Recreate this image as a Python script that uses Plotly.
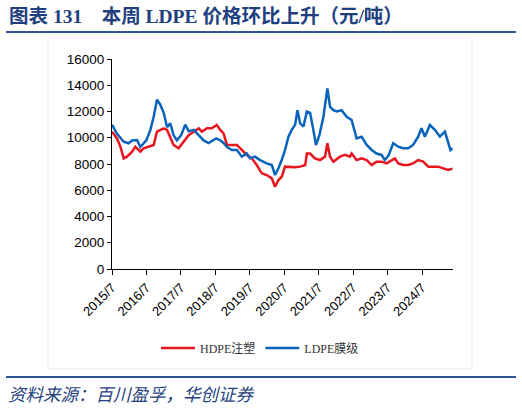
import plotly.graph_objects as go

# LDPE 膜级 (blue)
ldpe_dates = ["2015-07-01", "2015-08-23", "2015-11-02", "2015-12-25", "2016-01-30", "2016-03-22",
              "2016-04-27", "2016-06-01", "2016-06-29", "2016-08-11", "2016-09-15", "2016-10-20",
              "2016-11-25", "2016-12-30", "2017-02-04", "2017-03-10", "2017-04-14", "2017-05-19",
              "2017-07-04", "2017-08-16", "2017-09-21", "2017-11-13", "2018-01-05", "2018-02-27",
              "2018-04-20", "2018-07-10", "2018-08-22", "2018-09-26", "2018-11-01", "2018-12-23",
              "2019-02-15", "2019-04-07", "2019-05-30", "2019-07-04", "2019-08-26", "2019-10-18",
              "2019-12-28", "2020-02-20", "2020-03-25", "2020-04-30", "2020-06-04", "2020-07-09",
              "2020-08-14", "2020-09-18", "2020-10-24", "2020-11-18", "2020-12-16", "2021-01-21",
              "2021-02-25", "2021-04-01", "2021-05-05", "2021-06-02", "2021-07-08", "2021-08-20",
              "2021-10-01", "2021-10-29", "2021-12-03", "2022-01-08", "2022-03-01", "2022-04-23",
              "2022-06-15", "2022-07-09", "2022-08-07", "2022-09-29", "2022-11-22", "2023-01-14",
              "2023-03-06", "2023-04-28", "2023-06-02", "2023-07-14", "2023-08-30", "2023-10-22",
              "2023-12-14", "2024-02-05", "2024-03-28", "2024-05-21", "2024-06-25", "2024-07-31",
              "2024-09-22", "2024-11-14", "2025-01-06", "2025-02-28", "2025-04-03", "2025-04-28",
              "2025-05-19"]
ldpe_values = [11000, 10300, 9700, 9580, 9800, 9830,
               9300, 9580, 9800, 10600, 11600, 12900,
               12500, 11900, 10800, 11100, 10200, 9800,
               10200, 11000, 10500, 10600, 10200, 9800,
               9600, 9950, 9800, 9600, 9300, 9070,
               9070, 8560, 8800, 8430, 8560, 8300,
               8050, 7920, 7160, 7670, 8300, 9070,
               10080, 10600, 11000, 12100, 11100, 10850,
               12000, 11900, 10600, 9450, 10200, 11600,
               13760, 12370, 12100, 12000, 12100, 11600,
               11350, 10600, 9950, 10080, 9450, 9070,
               8800, 8690, 8300, 8690, 9580, 9320,
               9200, 9200, 9450, 10080, 10720, 10080,
               10970, 10600, 10080, 10460, 9580, 9070,
               9200]

# HDPE 注塑 (red)
hdpe_dates = ["2015-07-01", "2015-08-23", "2015-09-28", "2015-11-02", "2015-12-07", "2016-01-30",
              "2016-03-04", "2016-04-27", "2016-06-01", "2016-07-23", "2016-09-15", "2016-10-20",
              "2016-11-25", "2016-12-30", "2017-02-04", "2017-03-10", "2017-04-14", "2017-06-06",
              "2017-07-29", "2017-09-21", "2017-11-13", "2018-01-05", "2018-02-09", "2018-04-02",
              "2018-05-24", "2018-07-16", "2018-08-22", "2018-09-26", "2018-11-01", "2018-12-23",
              "2019-02-15", "2019-04-07", "2019-05-30", "2019-07-22", "2019-09-13", "2019-11-05",
              "2019-12-28", "2020-02-20", "2020-03-25", "2020-04-30", "2020-06-04", "2020-07-09",
              "2020-09-01", "2020-10-24", "2020-12-16", "2021-02-08", "2021-02-25", "2021-04-01",
              "2021-05-22", "2021-07-15", "2021-09-06", "2021-10-01", "2021-10-29", "2021-12-03",
              "2022-02-12", "2022-04-05", "2022-05-28", "2022-06-15", "2022-08-07", "2022-09-29",
              "2022-11-22", "2023-01-14", "2023-03-06", "2023-04-28", "2023-06-20", "2023-08-12",
              "2023-09-17", "2023-10-22", "2023-12-14", "2024-02-05", "2024-03-28", "2024-05-21",
              "2024-07-13", "2024-09-05", "2024-10-27", "2024-12-19", "2025-02-11", "2025-04-03",
              "2025-05-19"]
hdpe_values = [10460, 9950, 9320, 8430, 8560, 8940,
               9320, 8940, 9200, 9320, 9450, 10460,
               10600, 10720, 10600, 10080, 9450, 9200,
               9700, 10200, 10460, 10720, 10460, 10720,
               10720, 10970, 10600, 10340, 9450, 9450,
               9450, 9070, 8690, 8430, 7920, 7290,
               7160, 6900, 6270, 6780, 7030, 7800,
               7750, 7750, 7800, 7920, 8800, 8800,
               8430, 8300, 8560, 9580, 8560, 8180,
               8560, 8690, 8560, 8800, 8300, 8430,
               8300, 7920, 8180, 8180, 8050, 8300,
               8430, 8050, 7920, 7920, 8050, 8300,
               8180, 7800, 7800, 7800, 7670, 7540,
               7650]

tick_vals = ["%d-07-01" % y for y in range(2015, 2025)]
tick_text = ["%d/7" % y for y in range(2015, 2025)]

# plot area in pixels: x 112..453, y 59..269
L, R, T, B = 112, 453, 59, 269
def px(x):
    return (x - L) / (R - L)
def py(y):
    return (B - y) / (B - T)

fig = go.Figure()
fig.add_trace(go.Scatter(x=hdpe_dates, y=hdpe_values, mode="lines", name="HDPE注塑",
                         line=dict(color="#E8141E", width=2.5)))
fig.add_trace(go.Scatter(x=ldpe_dates, y=ldpe_values, mode="lines", name="LDPE膜级",
                         line=dict(color="#0A64BE", width=2.5)))

title_color = "#1F3F7F"
fig.update_layout(
    width=522, height=409,
    margin=dict(l=L, r=522 - R, t=T, b=409 - B),
    paper_bgcolor="white", plot_bgcolor="white",
    font=dict(family="Arial, Liberation Sans, Noto Sans CJK SC", color="black", size=12),
    showlegend=True,
    legend=dict(orientation="h", x=px(260), xanchor="center", y=py(348), yanchor="middle",
                font=dict(family="Liberation Serif, Noto Sans CJK SC", size=12, color="#333333"),
                itemwidth=34, tracegroupgap=0),
    xaxis=dict(type="date", range=["2015-07-01", "2025-05-25"],
               tickvals=tick_vals, ticktext=tick_text, tickangle=-45,
               showline=True, linecolor="black", linewidth=1,
               ticks="outside", ticklen=5, tickcolor="black",
               showgrid=False, zeroline=False, tickfont=dict(size=13)),
    yaxis=dict(range=[0, 16000], dtick=2000, tickformat="d", showline=True, linecolor="black", linewidth=1,
               ticks="outside", ticklen=4, tickcolor="black",
               showgrid=False, zeroline=False, tickfont=dict(size=13.5)),
    annotations=[
        dict(text="<b>图表 131　本周 LDPE 价格环比上升（元/吨）</b>", xref="paper", yref="paper",
             x=px(7), y=py(16), xanchor="left", yanchor="middle", showarrow=False,
             font=dict(family="Liberation Serif, Noto Sans CJK SC", size=19.5, color=title_color)),
        dict(text="<i>资料来源：百川盈孚，华创证券</i>", xref="paper", yref="paper",
             x=px(6), y=py(393), xanchor="left", yanchor="middle", showarrow=False,
             font=dict(family="Noto Sans CJK SC", size=17.5, color=title_color)),
    ],
    shapes=[
        dict(type="line", xref="paper", yref="paper", x0=px(6), x1=px(516), y0=py(32), y1=py(32),
             line=dict(color="#2E5597", width=2)),
        dict(type="line", xref="paper", yref="paper", x0=px(6), x1=px(516), y0=py(377), y1=py(377),
             line=dict(color="#2E5597", width=2)),
        dict(type="rect", xref="paper", yref="paper", x0=px(48), x1=px(472), y0=py(369), y1=py(38),
             line=dict(color="#EBEBEB", width=1), layer="below"),
    ],
)

# page body has a default 8px margin; drop it so the figure sits at the window corner
fig.write_html("out.html", config={"displayModeBar": False},
               post_script="document.body.style.margin='0';")
